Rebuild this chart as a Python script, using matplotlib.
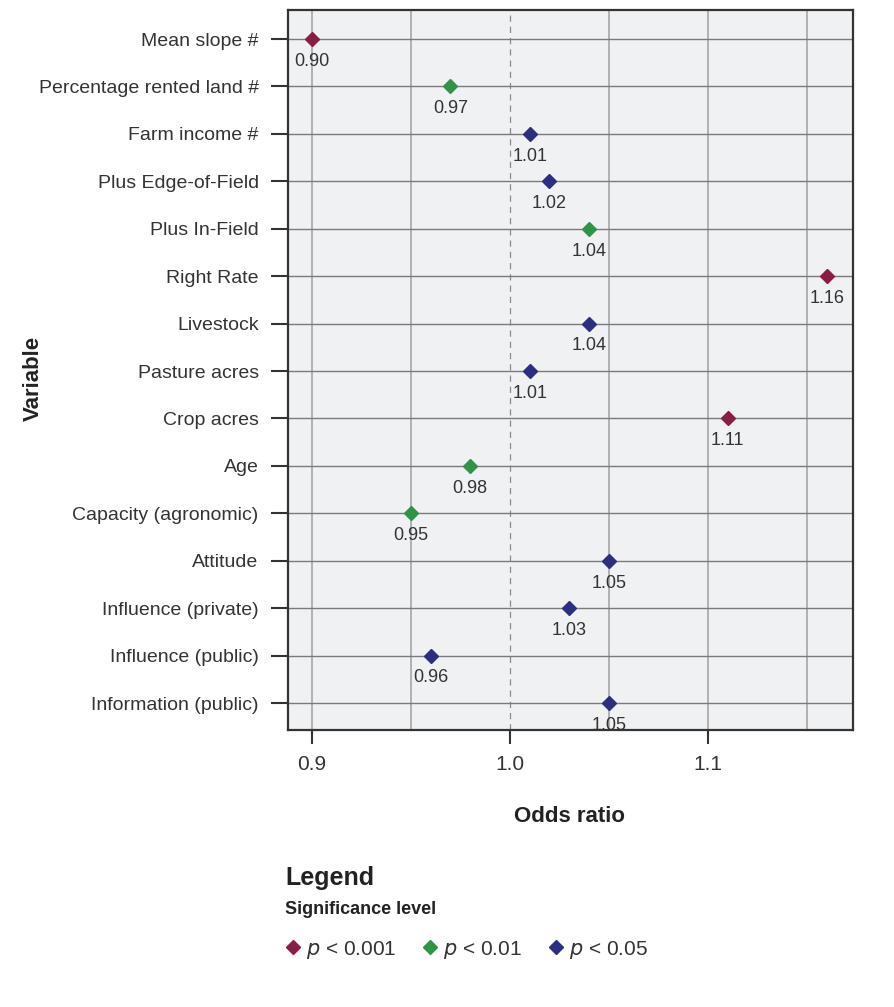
import matplotlib.pyplot as plt
from matplotlib.lines import Line2D

plt.rcParams['font.family'] = ['Liberation Sans', 'DejaVu Sans']

variables = ['Mean slope #', 'Percentage rented land #', 'Farm income #',
             'Plus Edge-of-Field', 'Plus In-Field', 'Right Rate', 'Livestock',
             'Pasture acres', 'Crop acres', 'Age', 'Capacity (agronomic)',
             'Attitude', 'Influence (private)', 'Influence (public)',
             'Information (public)']
odds = [0.90, 0.97, 1.01, 1.02, 1.04, 1.16, 1.04, 1.01, 1.11, 0.98, 0.95,
        1.05, 1.03, 0.96, 1.05]
level = ['p < 0.001', 'p < 0.01', 'p < 0.05', 'p < 0.05', 'p < 0.01',
         'p < 0.001', 'p < 0.05', 'p < 0.05', 'p < 0.001', 'p < 0.01',
         'p < 0.01', 'p < 0.05', 'p < 0.05', 'p < 0.05', 'p < 0.05']
levels = ['p < 0.001', 'p < 0.01', 'p < 0.05']
colors = {'p < 0.001': '#8c1c45', 'p < 0.01': '#2f9546', 'p < 0.05': '#2c2e7f'}

txt = '#333333'
fig = plt.figure(figsize=(8.94, 10.07), dpi=100)
ax = fig.add_axes([0.322, 0.275, 0.632, 0.715])
ax.set_facecolor('#f0f1f3')

ypos = list(range(len(variables)))
for y, x, lv in zip(ypos, odds, level):
    ax.plot(x, y, marker='D', color=colors[lv], markersize=7, zorder=3)
    ax.annotate('%.2f' % x, (x, y), xytext=(0, -10), textcoords='offset points',
                ha='center', va='top', fontsize=13, color=txt, zorder=4)

# grid
for gx in [0.9, 0.95, 1.05, 1.1, 1.15]:
    ax.axvline(gx, color='#a0a0a0', lw=1.1, zorder=1)
ax.axvline(1.0, color='#8a8a8a', lw=0.9, ls=(0, (5, 4)), zorder=1)
for y in ypos:
    ax.axhline(y, color='#7a7a7a', lw=1.0, zorder=1)

ax.set_xlim(0.8879, 1.1732)
ax.set_ylim(14.57, -0.61)
ax.set_xticks([0.9, 1.0, 1.1])
ax.set_xticklabels(['0.9', '1.0', '1.1'], fontsize=15, color=txt)
ax.set_yticks(ypos)
ax.set_yticklabels(variables, fontsize=14, color=txt)
ax.tick_params(axis='x', length=10, width=1.5, color='#333333', pad=8)
ax.tick_params(axis='y', length=12, width=1.5, color='#333333', pad=9)
for s in ax.spines.values():
    s.set_color('#333333')
    s.set_linewidth(1.6)

fig.text(0.637, 0.189, 'Odds ratio', ha='center', va='center',
         fontsize=16, fontweight='bold', color='#222222')
fig.text(0.037, 0.624, 'Variable', ha='center', va='center', rotation=90,
         fontsize=16, fontweight='bold', color='#222222')

# legend
fig.text(0.319, 0.128, 'Legend', ha='left', va='center', fontsize=18,
         fontweight='bold', color='#222222')
fig.text(0.319, 0.097, 'Significance level', ha='left', va='center',
         fontsize=13, fontweight='bold', color='#222222')
handles = [Line2D([], [], marker='D', ls='', color=colors[lv], markersize=7)
           for lv in levels]
labels = ['$p$ < 0.001', '$p$ < 0.01', '$p$ < 0.05']
fig.legend(handles, labels, loc='center left', bbox_to_anchor=(0.293, 0.057),
           ncol=3, frameon=False, fontsize=15, handletextpad=0.0,
           columnspacing=1.05, handlelength=1.2, labelcolor=txt)

plt.savefig('out.png', dpi=100)
